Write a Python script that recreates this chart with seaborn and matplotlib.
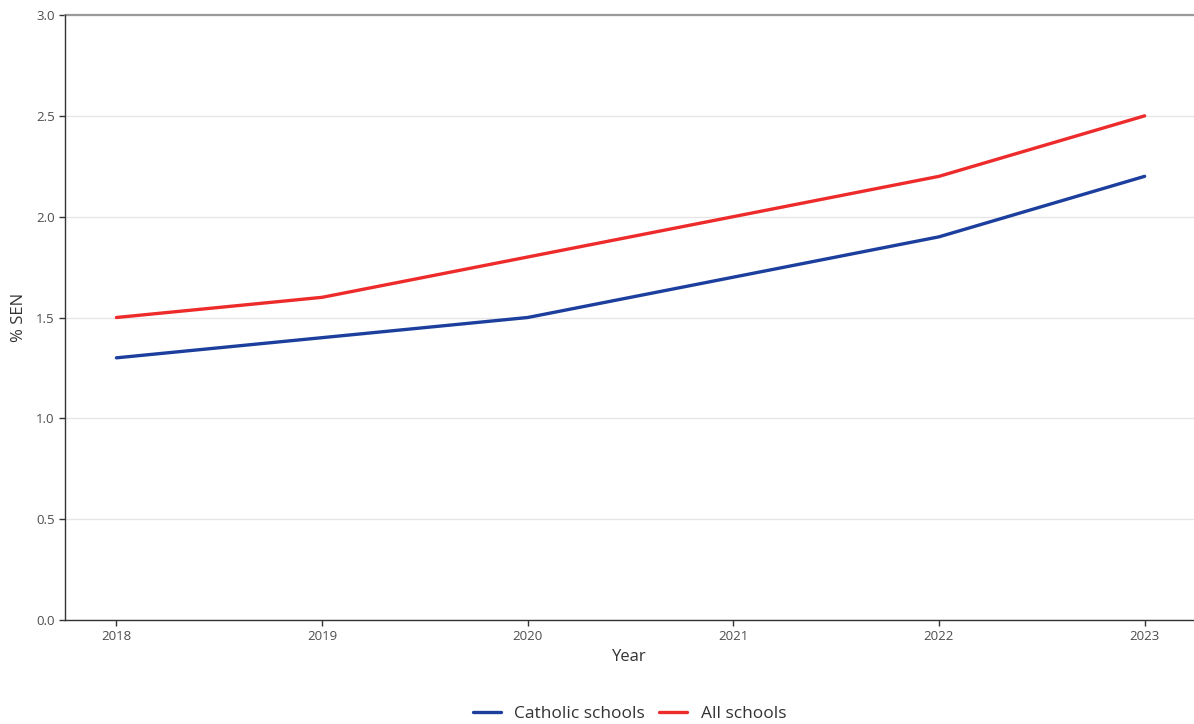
import pandas as pd
import matplotlib.pyplot as plt
import seaborn as sns

years = [2018, 2019, 2020, 2021, 2022, 2023]
catholic = [1.3, 1.4, 1.5, 1.7, 1.9, 2.2]
all_schools = [1.5, 1.6, 1.8, 2.0, 2.2, 2.5]

df = pd.DataFrame({
    'Year': years * 2,
    'value': catholic + all_schools,
    'group': ['Catholic schools'] * len(years) + ['All schools'] * len(years),
})

sns.set_style('white')
plt.rcParams['font.family'] = ['Open Sans', 'DejaVu Sans']

fig = plt.figure(figsize=(11.94, 7.24), dpi=100)
ax = fig.add_axes([65 / 1194, 1 - 620 / 724, 1129 / 1194, 605 / 724])

sns.lineplot(data=df, x='Year', y='value', hue='group',
             palette={'Catholic schools': '#1c3f9e', 'All schools': '#ee2b2b'},
             linewidth=2.4, ax=ax)

ax.set_xlim(2017.75, 2023.24)
ax.set_ylim(0, 3.0)
ax.set_yticks([0, 0.5, 1.0, 1.5, 2.0, 2.5, 3.0])
ax.set_yticklabels(['0.0', '0.5', '1.0', '1.5', '2.0', '2.5', '3.0'])
ax.set_xticks(years)
ax.yaxis.grid(True, color='#e6e6e6', linewidth=1)
ax.set_axisbelow(True)
ax.axhline(3.0, color='#9a9a9a', linewidth=1.6, zorder=2, clip_on=False)

for s in ['top', 'right']:
    ax.spines[s].set_visible(False)
for s in ['left', 'bottom']:
    ax.spines[s].set_color('#333333')
    ax.spines[s].set_linewidth(1)

ax.tick_params(axis='both', which='both', length=4, width=1, color='#333333',
               labelsize=9.5, labelcolor='#4d4d4d', left=True, bottom=True)
ax.set_xlabel('Year', fontsize=12, color='#333333', labelpad=4)
ax.set_ylabel('% SEN', fontsize=12, color='#333333', labelpad=6)

handles, labels = ax.get_legend_handles_labels()
ax.legend(handles, labels, loc='lower center', bbox_to_anchor=(0.5, -0.195),
          ncol=2, frameon=False, fontsize=12.5, handlelength=1.6,
          columnspacing=0.8, handletextpad=0.8)
for t in ax.get_legend().get_texts():
    t.set_color('#333333')

fig.savefig('out.png', dpi=100)
